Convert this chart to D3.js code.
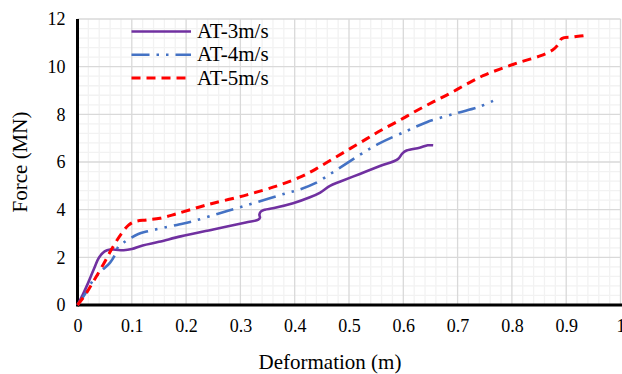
<!DOCTYPE html>
<html><head><meta charset="utf-8">
<script src="https://cdn.jsdelivr.net/npm/d3@7"></script>
<style>body{margin:0;background:#fff}svg{display:block}text{font-family:"Liberation Serif","Times New Roman",serif;fill:#000}</style>
</head><body><svg id="c" width="622" height="374"></svg>
<script>
const xTicks = [0,0.1,0.2,0.3,0.4,0.5,0.6,0.7,0.8,0.9,1];
const yTicks = [0,2,4,6,8,10,12];
const seriesNames = ["AT-3m/s","AT-4m/s","AT-5m/s"];
const at3x = [0,0.01,0.02,0.03,0.04,0.05,0.06,0.07,0.085,0.1,0.12,0.15,0.19,0.25,0.31,0.333,0.336,0.335,0.338,0.345,0.36,0.397,0.428,0.447,0.465,0.483,0.52,0.557,0.59,0.598,0.606,0.63,0.645,0.655];
const at3y = [0,0.45,0.95,1.5,2.0,2.25,2.33,2.32,2.3,2.35,2.5,2.65,2.88,3.17,3.46,3.58,3.66,3.8,3.93,4.0,4.06,4.27,4.52,4.72,5.0,5.17,5.5,5.83,6.12,6.35,6.48,6.6,6.7,6.7];
const at4x = [0,0.015,0.029,0.045,0.06,0.07,0.075,0.085,0.094,0.112,0.127,0.183,0.213,0.259,0.296,0.351,0.386,0.41,0.437,0.474,0.52,0.556,0.606,0.643,0.698,0.738,0.766];
const at4y = [0,0.5,1.05,1.45,1.78,2.15,2.45,2.62,2.76,2.98,3.08,3.36,3.52,3.83,4.08,4.46,4.7,4.85,5.1,5.62,6.3,6.78,7.3,7.67,8.05,8.3,8.57];
const at5x = [0,0.015,0.029,0.048,0.063,0.081,0.094,0.106,0.127,0.152,0.183,0.238,0.312,0.373,0.413,0.44,0.471,0.502,0.533,0.56,0.594,0.625,0.655,0.686,0.717,0.747,0.778,0.815,0.852,0.875,0.886,0.892,0.915,0.941];
const at5y = [0,0.45,0.98,1.72,2.35,3.0,3.35,3.5,3.57,3.64,3.83,4.2,4.62,5.04,5.4,5.72,6.14,6.56,6.98,7.34,7.76,8.16,8.52,8.88,9.27,9.62,9.9,10.19,10.45,10.7,10.95,11.18,11.25,11.33];

const svg = d3.select("#c");
const x = d3.scaleLinear().domain([0,1]).range([77.5,620.5]);
const y = d3.scaleLinear().domain([0,12]).range([305,19]);

// minor grid
const minorX = d3.range(0,50).map(i=>i*0.02).filter(v=>Math.abs(v*10-Math.round(v*10))>1e-6);
const minorY = d3.range(0,30).map(i=>i*0.4).filter(v=>Math.abs(v/2-Math.round(v/2))>1e-6);
const g = svg.append("g");
g.selectAll(".mx").data(minorX).join("line").attr("x1",d=>x(d)).attr("x2",d=>x(d)).attr("y1",y(0)).attr("y2",y(12)).attr("stroke","#F2F2F2").attr("stroke-width",1.3);
g.selectAll(".my").data(minorY).join("line").attr("y1",d=>y(d)).attr("y2",d=>y(d)).attr("x1",x(0)).attr("x2",x(1)).attr("stroke","#F2F2F2").attr("stroke-width",1.3);
g.selectAll(".Mx").data(xTicks.slice(1)).join("line").attr("x1",d=>x(d)).attr("x2",d=>x(d)).attr("y1",y(0)).attr("y2",y(12)).attr("stroke","#D9D9D9").attr("stroke-width",1.3);
g.selectAll(".My").data(yTicks.slice(1)).join("line").attr("y1",d=>y(d)).attr("y2",d=>y(d)).attr("x1",x(0)).attr("x2",x(1)).attr("stroke","#D9D9D9").attr("stroke-width",1.3);

// axes
const xAxis = svg.append("g").attr("transform",`translate(0,${y(0)})`).call(d3.axisBottom(x).tickValues(xTicks).tickFormat(d=>d3.format("")(d)).tickSize(0).tickPadding(14));
const yAxis = svg.append("g").attr("transform",`translate(${x(0)},0)`).call(d3.axisLeft(y).tickValues(yTicks).tickSize(0).tickPadding(12));
[xAxis,yAxis].forEach(a=>{a.select(".domain").remove();a.selectAll("text").style("font-family","Liberation Serif").style("font-size","18px").attr("fill","#000");});
svg.append("line").attr("x1",x(0)).attr("x2",622).attr("y1",y(0)).attr("y2",y(0)).attr("stroke","#000").attr("stroke-width",3);
svg.append("line").attr("x1",x(0)).attr("x2",x(0)).attr("y1",y(12)).attr("y2",y(0)+1.5).attr("stroke","#000").attr("stroke-width",3);

// series
const series = [
 {name:seriesNames[0], xs:at3x, ys:at3y, color:"#7030A0", dash:null, w:2.6},
 {name:seriesNames[1], xs:at4x, ys:at4y, color:"#4472C4", dash:"18,7,2.5,7,2.5,7", w:2.6},
 {name:seriesNames[2], xs:at5x, ys:at5y, color:"#FF0000", dash:"9,6", w:3}
];
const line = d3.line().x(d=>x(d[0])).y(d=>y(d[1])).curve(d3.curveCatmullRom.alpha(0.5));
series.forEach(s=>{
  svg.append("path").datum(s.xs.map((v,i)=>[v,s.ys[i]])).attr("d",line).attr("fill","none")
   .attr("stroke",s.color).attr("stroke-width",s.w).attr("stroke-dasharray",s.dash).attr("stroke-linejoin","round");
});

// legend
const leg = svg.append("g");
series.forEach((s,i)=>{
  const yy = 31.5 + i*23.3;
  leg.append("line").attr("x1",131.5).attr("x2",191).attr("y1",yy).attr("y2",yy).attr("stroke",s.color).attr("stroke-width",s.w).attr("stroke-dasharray",s.dash);
  leg.append("text").attr("x",197).attr("y",yy+6.5).style("font-size","21px").text(s.name);
});

// titles
svg.append("text").attr("x",(x(0)+x(1))/2 - 19).attr("y",369).attr("text-anchor","middle").style("font-size","21px").text("Deformation (m)");
svg.append("text").attr("transform",`translate(27,${y(6)}) rotate(-90)`).attr("text-anchor","middle").style("font-size","21px").text("Force (MN)");
</script></body></html>
